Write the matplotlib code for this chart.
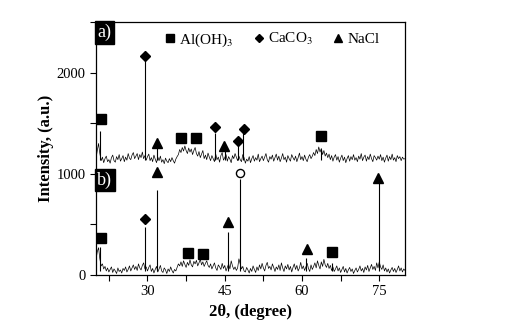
import numpy as np
import matplotlib
matplotlib.use('Agg')
import matplotlib.pyplot as plt
from matplotlib.lines import Line2D
from matplotlib.ticker import MultipleLocator

plt.rcParams['font.family'] = ['Liberation Serif', 'DejaVu Serif']
plt.rcParams['mathtext.fontset'] = 'stix'
plt.rcParams['font.size'] = 10

# --- data ------------------------------------------------------------
two_theta = np.arange(20.0, 80.001, 0.25)

# background of pattern a) (offset), one value every 0.25 deg
base_a = [1150, 1230, 1300, 1200, 1130, 1165, 1110, 1150, 1175, 1120,
          1140, 1105, 1160, 1185, 1130, 1115, 1170, 1140, 1190, 1125,
          1150, 1180, 1120, 1165, 1135, 1200, 1155, 1140, 1185, 1210,
          1150, 1175, 1200, 1140, 1190, 1160, 1215, 1150, 1180, 1135,
          1170, 1195, 1130, 1160, 1120, 1185, 1145, 1110, 1165, 1130,
          1175, 1115, 1140, 1100, 1155, 1125, 1110, 1150, 1120, 1160,
          1130, 1105, 1145, 1170, 1190, 1240, 1210, 1260, 1225, 1275,
          1230, 1200, 1255, 1215, 1245, 1190, 1230, 1260, 1200, 1175,
          1220, 1160, 1195, 1230, 1150, 1185, 1140, 1205, 1165, 1130,
          1180, 1150, 1120, 1195, 1140, 1165, 1115, 1180, 1210, 1135,
          1160, 1190, 1125, 1170, 1145, 1110, 1180, 1150, 1200, 1165,
          1130, 1175, 1140, 1120, 1190, 1160, 1105, 1145, 1125, 1170,
          1110, 1150, 1180, 1125, 1160, 1135, 1195, 1120, 1150, 1175,
          1130, 1165, 1200, 1140, 1115, 1170, 1145, 1185, 1125, 1160,
          1195, 1135, 1175, 1120, 1155, 1200, 1140, 1165, 1115, 1180,
          1150, 1125, 1190, 1160, 1135, 1175, 1120, 1160, 1205, 1140,
          1170, 1130, 1185, 1145, 1120, 1165, 1190, 1150, 1175, 1210,
          1180, 1240, 1200, 1265, 1215, 1250, 1190, 1230, 1175, 1205,
          1160, 1195, 1140, 1180, 1125, 1165, 1190, 1135, 1170, 1115,
          1155, 1185, 1130, 1165, 1110, 1150, 1180, 1125, 1170, 1140,
          1190, 1135, 1160, 1120, 1175, 1145, 1200, 1130, 1165, 1185,
          1125, 1170, 1140, 1195, 1150, 1120, 1180, 1160, 1135, 1175,
          1145, 1190, 1130, 1165, 1115, 1155, 1185, 1125, 1170, 1140,
          1195, 1135, 1160, 1120, 1180, 1150, 1170, 1130, 1165, 1145,
          1150]

# background of pattern b)
base_b = [150, 230, 270, 160, 90, 110, 60, 85, 40, 70,
          30, 55, 80, 25, 60, 40, 15, 70, 35, 50,
          20, 65, 45, 80, 30, 55, 90, 40, 70, 100,
          55, 85, 45, 110, 70, 50, 95, 120, 60, 80,
          40, 75, 100, 35, 65, 20, 55, 85, 30, 60,
          95, 40, 25, 70, 50, 15, 60, 35, 80, 45,
          20, 55, 40, 75, 110, 90, 130, 85, 140, 105,
          75, 125, 95, 150, 100, 80, 135, 110, 145, 90,
          120, 155, 100, 130, 85, 115, 140, 95, 75, 110,
          60, 90, 120, 70, 45, 100, 80, 55, 115, 65,
          95, 40, 75, 110, 60, 140, 90, 55, 80, 45,
          70, 160, 110, 60, 85, 40, 30, 75, 50, 20,
          65, 35, 90, 55, 25, 80, 45, 100, 60, 115,
          70, 40, 95, 125, 65, 85, 50, 110, 75, 35,
          80, 55, 100, 45, 120, 70, 35, 90, 60, 105,
          50, 85, 30, 75, 110, 55, 95, 40, 70, 125,
          60, 90, 45, 80, 115, 65, 35, 100, 55, 85,
          120, 70, 140, 95, 60, 130, 85, 155, 100, 75,
          115, 65, 95, 45, 80, 35, 60, 90, 40, 70,
          25, 55, 85, 30, 65, 20, 50, 75, 35, 60,
          15, 45, 70, 30, 55, 90, 40, 65, 25, 80,
          50, 95, 35, 70, 105, 55, 85, 45, 120, 70,
          130, 80, 55, 100, 40, 70, 30, 60, 20, 50,
          75, 35, 65, 25, 55, 90, 40, 70, 30, 60,
          45]

# sharp reflections
peak_pos_a = [20.8, 29.5, 31.8, 43.2, 45.0, 47.5, 48.6, 63.6]
peak_int_a = [1420, 2110, 1260, 1400, 1250, 1315, 1405, 1250]
peak_pos_b = [20.8, 29.5, 31.8, 45.7, 48.0, 60.8, 65.9, 75.0]
peak_int_b = [280, 470, 840, 425, 950, 170, 115, 910]

# phase markers: Al(OH)3, CaCO3, NaCl, unknown
sq_x = [21.0, 36.6, 39.5, 63.6, 21.0, 37.9, 40.8, 65.8]
sq_y = [1540, 1356, 1350, 1376, 366, 218, 208, 228]
dm_x = [29.5, 43.2, 47.6, 48.8, 29.5]
dm_y = [2168, 1465, 1327, 1445, 555]
tr_x = [31.8, 44.9, 31.8, 45.7, 60.9, 74.8]
tr_y = [1307, 1277, 1020, 525, 257, 960]
circ_x = [48.0]
circ_y = [1010]

legend_labels = ['Al(OH)$_3$', 'CaCO$_3$', 'NaCl']

# --- figure ----------------------------------------------------------
fig = plt.figure(figsize=(5.18, 3.36), dpi=100)
ax = fig.add_axes([0.1853, 0.1815, 0.5966, 0.753])

ax.plot(two_theta, base_a, color='k', lw=0.5)
ax.plot(two_theta, base_b, color='k', lw=0.5)
ax.vlines(peak_pos_a, 1140, peak_int_a, color='k', lw=0.8)
ax.vlines(peak_pos_b, 40, peak_int_b, color='k', lw=0.8)

ms = 6.5
ax.plot(sq_x, sq_y, 's', color='k', ms=ms, ls='none')
ax.plot(dm_x, dm_y, 'D', color='k', ms=ms * 0.8, ls='none')
ax.plot(tr_x, tr_y, '^', color='k', ms=ms, ls='none')
ax.plot(circ_x, circ_y, 'o', mfc='white', mec='k', ms=ms * 0.9, ls='none')

ax.set_xlim(20, 80)
ax.set_ylim(0, 2500)
ax.xaxis.set_major_locator(MultipleLocator(15))
ax.xaxis.set_minor_locator(MultipleLocator(7.5))
ax.set_yticks([0, 1000, 2000])
ax.yaxis.set_minor_locator(MultipleLocator(500))
ax.tick_params(which='both', direction='out', labelsize=10.5, width=0.8)
ax.tick_params(which='major', length=4)
ax.tick_params(which='minor', length=4)
for s in ax.spines.values():
    s.set_linewidth(0.9)

ax.set_xlabel('2θ, (degree)', fontsize=12, fontweight='bold', labelpad=4)
ax.set_ylabel('Intensity, (a.u.)', fontsize=12, fontweight='bold', labelpad=2)

# panel labels
box = dict(boxstyle='square,pad=0.15', fc='black', ec='black')
ax.text(0.004, 0.993, 'a)', transform=ax.transAxes, ha='left', va='top',
        color='white', fontsize=13, bbox=box)
ax.text(0.004, 0.41, 'b)', transform=ax.transAxes, ha='left', va='top',
        color='white', fontsize=13, bbox=box)

handles = [Line2D([], [], marker='s', color='k', ls='none', ms=6),
           Line2D([], [], marker='D', color='k', ls='none', ms=4.5),
           Line2D([], [], marker='^', color='k', ls='none', ms=6)]
ax.legend(handles, legend_labels, loc='upper left', bbox_to_anchor=(0.185, 1.0),
          ncol=3, frameon=False, fontsize=11, handletextpad=0.1,
          columnspacing=1.15, handlelength=1.0, borderaxespad=0.2)

fig.savefig('out.png', dpi=100)
